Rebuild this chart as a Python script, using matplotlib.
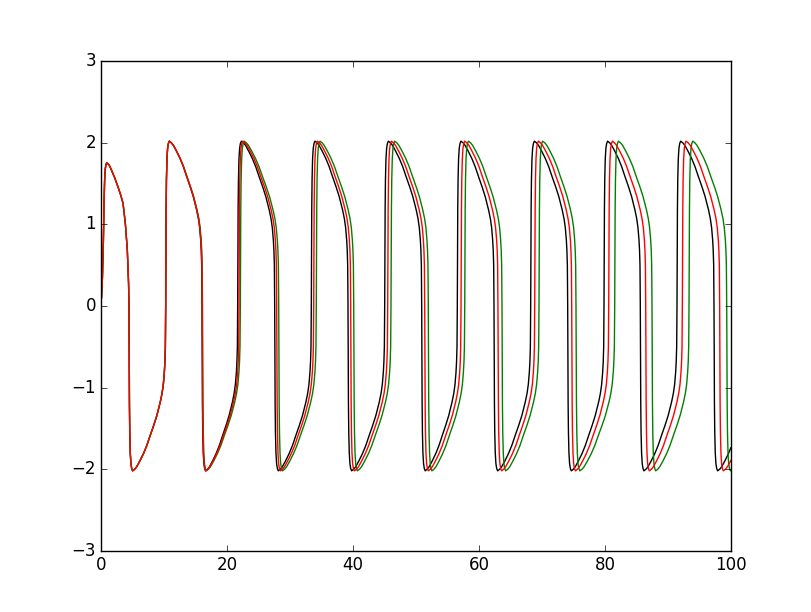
import numpy as np
import matplotlib
matplotlib.use("Agg")
import matplotlib.pyplot as plt

plt.style.use("classic")

# ---- data ----
# initial transient (identical for the three runs), up to the first downward zero crossing
start_t = [0.0, 0.15, 0.3, 0.4, 0.5, 0.6, 0.7, 0.83, 1.2, 1.56, 2.1, 2.62, 3.05, 3.42, 3.79, 4.1, 4.3, 4.37]
start_y = [0.1, 0.35, 0.8, 1.25, 1.55, 1.68, 1.73, 1.756, 1.73, 1.67, 1.57, 1.46, 1.36, 1.26, 1.01, 0.69, 0.28, 0.0]

# one half-cycle between two zero crossings (upward crossing at 0), nominal length 5.77
half_t = [0.0, 0.03, 0.07, 0.12, 0.2, 0.3, 0.42, 0.57, 0.9, 1.21, 1.7, 2.27, 2.8, 3.34, 3.9,
          4.39, 4.92, 5.2, 5.4, 5.56, 5.65, 5.72, 5.75, 5.77]
half_y = [0.0, 0.6, 1.2, 1.55, 1.8, 1.93, 1.99, 2.02, 2.0, 1.97, 1.9, 1.81, 1.71, 1.585, 1.46,
          1.34, 1.176, 1.07, 0.96, 0.81, 0.68, 0.5, 0.25, 0.0]

# zero-crossing times of each run (first one is downward), last entry lies past the axis end
cross_black = [4.37, 10.2, 15.97, 21.64, 27.52, 33.34, 39.17, 45.0, 50.88, 56.54, 62.37,
               68.2, 74.08, 79.85, 85.62, 91.45, 97.33, 103.15]
cross_red = [4.37, 10.2, 16.0, 21.85, 27.84, 33.72, 39.6, 45.48, 51.36, 57.13, 63.0,
             68.84, 74.72, 80.6, 86.48, 92.3, 98.23, 104.11]
cross_green = [4.37, 10.2, 16.05, 22.06, 28.16, 34.13, 40.08, 46.0, 51.93, 57.72, 63.64,
               69.52, 75.4, 81.55, 87.48, 93.36, 99.35, 105.3]

x_min, x_max = 0, 100
y_min, y_max = -3, 3


def build(crossings):
    ts = list(start_t)
    ys = list(start_y)
    ht = np.array(half_t)
    hy = np.array(half_y)
    sign = -1.0
    for c0, c1 in zip(crossings[:-1], crossings[1:]):
        scale = (c1 - c0) / ht[-1]
        ts.extend((c0 + ht[1:] * scale).tolist())
        ys.extend((sign * hy[1:]).tolist())
        sign = -sign
    ts = np.array(ts)
    ys = np.array(ys)
    # cut at the axis end
    keep = ts <= x_max
    t_end = x_max
    y_end = np.interp(t_end, ts, ys)
    return np.append(ts[keep], t_end), np.append(ys[keep], y_end)


fig = plt.figure(figsize=(8.12, 6.12), dpi=100, facecolor="white")
ax = fig.add_subplot(111)

for cr, col in [(cross_black, "k"), (cross_green, "g"), (cross_red, "r")]:
    t, y = build(cr)
    ax.plot(t, y, color=col, linewidth=1.0)

ax.set_xlim(x_min, x_max)
ax.set_ylim(y_min, y_max)

fig.savefig("out.png", dpi=100, facecolor="white")
